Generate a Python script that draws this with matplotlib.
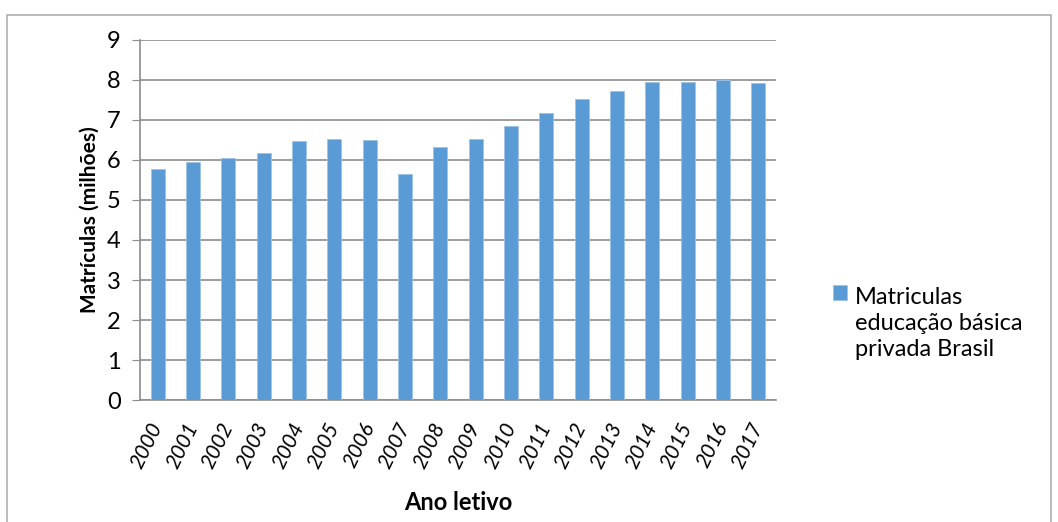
import matplotlib.pyplot as plt
from matplotlib.patches import Rectangle
from matplotlib.legend_handler import HandlerPatch

plt.rcParams['font.family'] = ['Lato', 'DejaVu Sans']

# matriculas na educacao basica privada (milhoes)
anos = ['2000', '2001', '2002', '2003', '2004', '2005', '2006', '2007', '2008',
        '2009', '2010', '2011', '2012', '2013', '2014', '2015', '2016', '2017']
matriculas = [5.77, 5.95, 6.05, 6.18, 6.47, 6.52, 6.49, 5.65, 6.32,
              6.53, 6.85, 7.17, 7.52, 7.73, 7.94, 7.95, 8.01, 7.93]
y_ticks = list(range(0, 10))
serie = 'Matriculas\neducação básica\nprivada Brasil'

LEG_SIZE = 17
LEG_SPACING = 1.3


class TopHandler(HandlerPatch):
    # puts the legend square beside the first line of a multi-line label
    def create_artists(self, legend, orig_handle, xdescent, ydescent,
                       width, height, fontsize, trans):
        arts = super().create_artists(legend, orig_handle, xdescent, ydescent,
                                      width, height, fontsize, trans)
        for a in arts:
            a.set_y(a.get_y() + fontsize * LEG_SPACING)
        return arts


fig = plt.figure(figsize=(10.58, 5.22), dpi=100)
ax = fig.add_axes([0.1323, 0.2337, 0.6012, 0.6897])

x = list(range(len(anos)))
bars = ax.bar(x, matriculas, width=0.4, color='#5B9BD5',
              edgecolor='#9DC3E6', linewidth=0.6, zorder=3)

ax.set_xlim(-0.5, len(anos) - 0.5)
ax.set_ylim(0, 9)
ax.set_yticks(y_ticks)
ax.yaxis.grid(True, color='#8c8c8c', linewidth=1.2, zorder=0)
ax.set_axisbelow(True)

for s in ['top', 'right']:
    ax.spines[s].set_visible(False)
ax.spines['left'].set_color('#8c8c8c')
ax.spines['bottom'].set_color('#8c8c8c')
ax.spines['left'].set_linewidth(1.2)
ax.spines['bottom'].set_linewidth(1.2)

ax.tick_params(axis='y', length=6, color='#8c8c8c', labelsize=17, pad=8)
ax.tick_params(axis='x', length=0, pad=17)
ax.set_xticks(x)
ax.set_xticklabels(anos, rotation=64, ha='right', va='center',
                   rotation_mode='anchor', fontsize=15, style='italic')

ax.set_ylabel('Matrículas (milhões)', fontsize=15, fontweight='bold', labelpad=5)
ax.set_xlabel('Ano letivo', fontsize=17, fontweight='bold', labelpad=14)

leg = fig.legend(handles=[bars.patches[0]], labels=[serie], loc='center left',
                 bbox_to_anchor=(0.767, 0.381), frameon=False, fontsize=LEG_SIZE,
                 handlelength=0.6, handleheight=0.6, handletextpad=0.35,
                 handler_map={Rectangle: TopHandler()})
for t in leg.get_texts():
    t.set_linespacing(LEG_SPACING)

# outer chart frame
fig.patches.append(Rectangle((7 / 1058, -0.01), 1044 / 1058, 1 - 15 / 522 + 0.01,
                             transform=fig.transFigure, fill=False,
                             edgecolor='#b0b0b0', linewidth=1.2))

plt.savefig('out.png', dpi=100)
